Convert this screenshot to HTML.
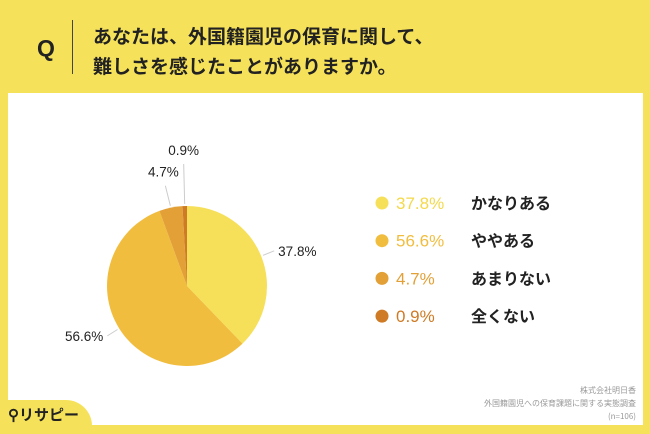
<!DOCTYPE html>
<html><head><meta charset="utf-8"><style>
body{margin:0;width:650px;height:434px;background:#f6e25a;position:relative;overflow:hidden;font-family:"Liberation Sans","Noto Sans CJK JP",sans-serif;}
.panel{position:absolute;left:8px;top:93px;width:635px;height:332px;background:#fff;}
.tab{position:absolute;left:0;top:400px;width:92px;height:34px;background:#f6e25a;border-top-right-radius:26px;}
.q{position:absolute;left:37px;top:35px;font-size:23px;font-weight:bold;color:#222;}
.sep{position:absolute;left:72px;top:20px;width:1px;height:54px;background:#444;}
.title{position:absolute;left:93px;top:21px;font-size:19px;font-weight:bold;line-height:30px;color:#222;font-family:"Noto Sans CJK JP",sans-serif;}
.src{position:absolute;right:14px;top:384px;font-size:8px;line-height:13px;color:#999;text-align:right;font-family:"Noto Sans CJK JP",sans-serif;}
.logo{position:absolute;left:8px;top:404px;font-size:15px;font-weight:bold;color:#222;font-family:"Noto Sans CJK JP",sans-serif;}
svg{position:absolute;left:0;top:0;}
</style></head><body>
<div class="panel"></div>
<div class="tab"></div>
<div class="q">Q</div>
<div class="sep"></div>
<div class="title">あなたは、外国籍園児の保育に関して、<br>難しさを感じたことがありますか。</div>
<div class="src">株式会社明日香<br>外国籍園児への保育課題に関する実態調査<br>(n=106)</div>
<div class="logo">⚲リサピー</div>
<svg id="c" width="650" height="434"></svg>
<script>
const categories=["かなりある","ややある","あまりない","全くない"];
const values=[37.8,56.6,4.7,0.9];
const colors=["#f6e05a","#f1bd3e","#e2a036","#cf7a24"];
const ns="http://www.w3.org/2000/svg",svg=document.getElementById('c');
const cx=187,cy=286,r=80;
const total=values.reduce((a,b)=>a+b,0);
function pt(a,rr){return [cx+rr*Math.sin(a),cy-rr*Math.cos(a)];}
function mk(t,attrs){const e=document.createElementNS(ns,t);for(const k in attrs)e.setAttribute(k,attrs[k]);svg.appendChild(e);return e;}
let a0=0;
const lineUp=[0,0,20,40];
values.forEach((v,i)=>{
  const a1=a0+v/total*2*Math.PI;
  const p0=pt(a0,r),p1=pt(a1,r),large=(a1-a0)>Math.PI?1:0;
  const s=mk('path',{d:`M${cx},${cy}L${p0[0]},${p0[1]}A${r},${r} 0 ${large} 1 ${p1[0]},${p1[1]}Z`,fill:colors[i]});
  
  
  const m=(a0+a1)/2;
  let l1=pt(m,r+2),l2,tx,ty,anchor;
  if(i>=2){
    l2=[l1[0]-(i===2?5:1),l1[1]-lineUp[i]];
    tx=l2[0]-(i===2?2:0);ty=l2[1]-9;anchor='middle';
  }else{
    l2=pt(m,r+14);
    const right=Math.sin(m)>0.2;
    tx=right?l2[0]+4:l2[0]-4;ty=l2[1]+5;anchor=right?'start':'end';
  }
  const ln=mk('line',{x1:l1[0],y1:l1[1],x2:l2[0],y2:l2[1],stroke:'#ccc','stroke-width':1});
  
  
  const t=mk('text',{x:tx,y:ty,'font-size':13.5,fill:'#222','text-anchor':anchor,'font-family':'Liberation Sans, sans-serif'});
  t.textContent=v.toFixed(1)+'%';
  
  
  a0=a1;
  const ly=203+i*37.7;
  const d=mk('circle',{cx:382,cy:ly,r:6.5,fill:colors[i]});
  
  
  const pv=mk('text',{x:396,y:ly+6,'font-size':17,fill:colors[i]==="#f6e05a"?"#f3d94a":colors[i],'font-family':'Liberation Sans, sans-serif'});
  pv.textContent=v.toFixed(1)+'%';
  
  
  const lb=mk('text',{x:471,y:ly+6,'font-size':16,'font-weight':'bold',fill:'#222','font-family':'Noto Sans CJK JP, sans-serif'});
  lb.textContent=categories[i];
  
  
});
</script>
</body></html>
